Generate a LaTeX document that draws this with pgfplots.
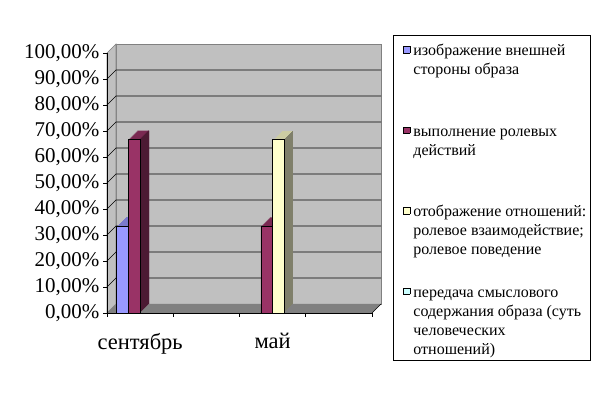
\documentclass[border=0pt]{standalone}
\usepackage{fontspec}
\setmainfont{Liberation Serif}
\usepackage{pgfplots}
\usepackage{pgfplotstable}
\pgfplotsset{compat=1.18}
\definecolor{cBlueF}{HTML}{9999FF}
\definecolor{cBlueT}{HTML}{7A7ACC}
\definecolor{cBlueS}{HTML}{4D4D80}
\definecolor{cPurF}{HTML}{993366}
\definecolor{cPurT}{HTML}{7A2952}
\definecolor{cPurS}{HTML}{4C1A33}
\definecolor{cYelF}{HTML}{FFFFCC}
\definecolor{cYelT}{HTML}{CCCCA3}
\definecolor{cYelS}{HTML}{80806B}
\definecolor{cCyaF}{HTML}{CCFFFF}
\definecolor{wallC}{HTML}{C0C0C0}
\definecolor{floorC}{HTML}{808080}

% series 1: изображение внешней стороны образа
\pgfplotstableread{
x y
0.5 33.33
}\tBlue
% series 2: выполнение ролевых действий
\pgfplotstableread{
x y
0.5 66.67
2.5 33.33
}\tPur
% series 3: отображение отношений
\pgfplotstableread{
x y
2.5 66.67
}\tYel

% #1 table, #2 bar shift (centre), #3 right-edge shift, #4 top colour, #5 side colour, #6 front colour
\newcommand{\threedbars}[6]{%
  \pgfplotsinvokeforeach{1,...,9}{
    \addplot[ybar, forget plot, bar width=0.178, bar shift=#2, draw=none, fill=#4,
      xshift=##1pt, yshift=##1pt] table[x=x,y=y]{#1};
  }
  \pgfplotsinvokeforeach{1,...,9}{
    \addplot[ybar, forget plot, bar width=1.2pt, bar shift=#3, draw=none, fill=#5,
      xshift=##1pt-0.6pt, yshift=##1pt] table[x=x,y=y]{#1};
  }
  \addplot[ybar, forget plot, bar width=0.178, bar shift=#2, draw=black, line width=0.5pt, fill=#6]
    table[x=x,y=y]{#1};
}
\newcommand{\legkey}[1]{\raisebox{3pt}{\setlength{\fboxsep}{0pt}\setlength{\fboxrule}{0.5pt}\fcolorbox{black}{#1}{\rule{0pt}{6pt}\rule{6pt}{0pt}}}}

\begin{document}
\begin{tikzpicture}
\path (0,0) rectangle (599pt,395pt);
\begin{axis}[
  set layers,
  scale only axis, width=265pt, height=260pt,
  at={(107pt,82pt)}, anchor=south west,
  xmin=0, xmax=4, ymin=0, ymax=100,
  clip=false,
  axis x line*=bottom, axis y line*=left,
  axis line style={black, line width=0.6pt},
  tick align=outside,
  major tick length=4pt,
  tick style={black, line width=0.6pt},
  xtick={0,1,2,3,4}, xticklabels={},
  extra x ticks={0.5,2.5}, extra x tick labels={сентябрь,май},
  extra x tick style={major tick length=0pt, tick label style={yshift=-17pt, font=\fontsize{22.5}{22.5}\selectfont}},
  ytick={0,10,...,100},
  yticklabels={{0,00\%},{10,00\%},{20,00\%},{30,00\%},{40,00\%},{50,00\%},{60,00\%},{70,00\%},{80,00\%},{90,00\%},{100,00\%}},
  tick label style={font=\fontsize{21}{21}\selectfont},
]
\begin{pgfonlayer}{axis background}
\fill[wallC, draw=floorC, line width=0.6pt] ([shift={(9pt,9pt)}]axis cs:0,0) rectangle ([shift={(9pt,9pt)}]axis cs:4,100);
\fill[wallC, draw=floorC, line width=0.6pt] (axis cs:0,0) -- (axis cs:0,100) -- ([shift={(9pt,9pt)}]axis cs:0,100) -- ([shift={(9pt,9pt)}]axis cs:0,0) -- cycle;
\fill[floorC] (axis cs:0,0) -- (axis cs:4,0) -- ([shift={(9pt,9pt)}]axis cs:4,0) -- ([shift={(9pt,9pt)}]axis cs:0,0) -- cycle;
\draw[black, line width=0.6pt] (axis cs:4,0) -- ([shift={(9pt,9pt)}]axis cs:4,0);
\pgfplotsinvokeforeach{10,20,...,90}{
  \draw[black, line width=0.6pt] (axis cs:0,#1) -- ([shift={(9pt,9pt)}]axis cs:0,#1) -- ([shift={(9pt,9pt)}]axis cs:4,#1);
}
\end{pgfonlayer}

\threedbars{\tBlue}{-0.267}{-0.178}{cBlueT}{cBlueS}{cBlueF}
\threedbars{\tPur}{-0.089}{0}{cPurT}{cPurS}{cPurF}
\threedbars{\tYel}{0.089}{0.178}{cYelT}{cYelS}{cYelF}
\end{axis}

\node[draw=black, line width=0.8pt, fill=white, anchor=north west, inner xsep=4pt, inner ysep=1pt,
      font=\fontsize{16}{19}\selectfont] at (393pt,360pt) {%
  \begin{tabular}{@{\hspace{6pt}}l@{\hspace{3pt}}l@{}}
  \rule{0pt}{19.3pt}\legkey{cBlueF} & изображение внешней\\
   & стороны образа\\[42.5pt]
  \legkey{cPurF} & выполнение ролевых\\
   & действий\\[42.5pt]
  \legkey{cYelF} & отображение отношений:\\
   & ролевое взаимодействие;\\
   & ролевое поведение\\[23.5pt]
  \legkey{cCyaF} & передача смыслового\\
   & содержания образа (суть\\
   & человеческих\\
   & отношений)
  \end{tabular}};
\end{tikzpicture}
\end{document}
